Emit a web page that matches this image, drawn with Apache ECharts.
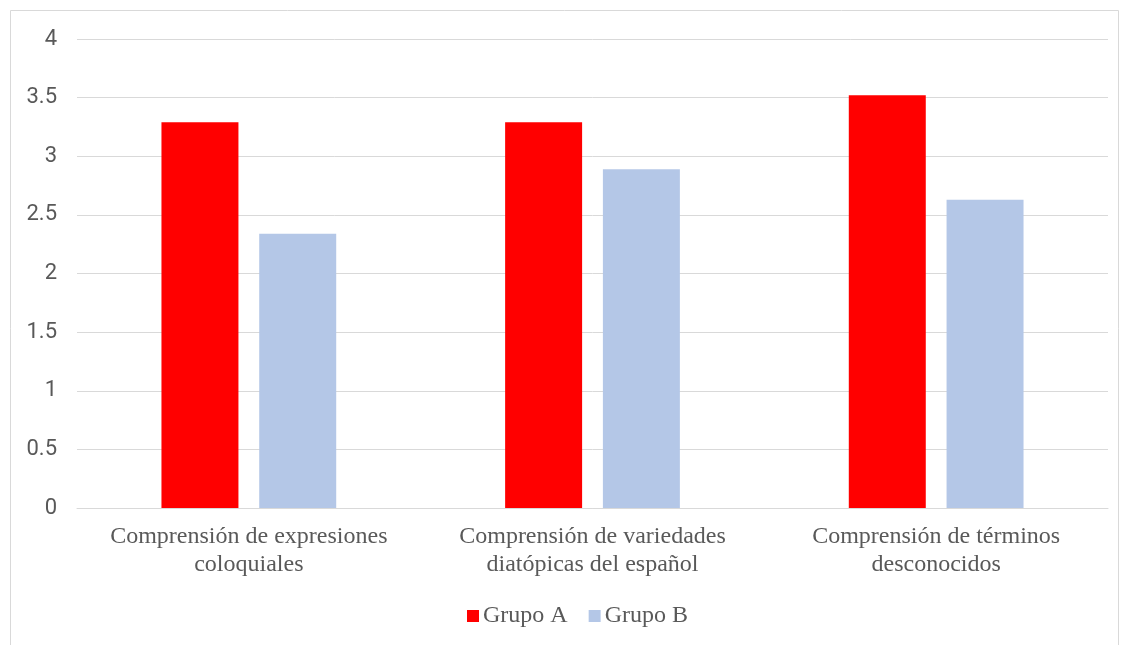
<!DOCTYPE html>
<html>
<head>
<meta charset="utf-8">
<script src="https://cdn.jsdelivr.net/npm/echarts@6/dist/echarts.min.js"></script>
<style>
  html, body { margin: 0; padding: 0; background: #ffffff; }
  #chart { width: 1125px; height: 645px; }
</style>
</head>
<body>
<div id="chart"></div>
<script>
// Categories and mean scores per group
const categories = [
  'Comprensión de expresiones\ncoloquiales',
  'Comprensión de variedades\ndiatópicas del español',
  'Comprensión de términos\ndesconocidos'
];
const grupoA = [3.29, 3.29, 3.52];
const grupoB = [2.34, 2.89, 2.63];
const yTicks = { min: 0, max: 4, interval: 0.5 };

const chart = echarts.init(document.getElementById('chart'), null, { renderer: 'canvas' });

const serif = '"Liberation Serif", "Times New Roman", serif';
const sans = 'Roboto, "Liberation Sans", sans-serif';

chart.setOption({
  animation: false,
  backgroundColor: '#ffffff',
  graphic: [{
    type: 'rect',
    shape: { x: 10.5, y: 10.5, width: 1108, height: 650 },
    style: { fill: 'none', stroke: '#d9d9d9', lineWidth: 1 },
    silent: true
  }],
  grid: { left: 77, right: 17, top: 39, bottom: 137, containLabel: false },
  legend: {
    bottom: 12,
    left: 462,
    itemWidth: 12,
    itemHeight: 12,
    itemGap: 21,
    icon: 'rect',
    textStyle: { fontFamily: serif, fontSize: 24, color: '#595959', padding: [0, 0, 0, -1] },
    data: ['Grupo A', 'Grupo B']
  },
  xAxis: {
    type: 'category',
    data: categories,
    axisLine: { show: true, lineStyle: { color: '#d9d9d9', width: 1 } },
    axisTick: { show: false },
    axisLabel: {
      fontFamily: serif, fontSize: 24, color: '#595959',
      lineHeight: 28, margin: 15, interval: 0
    }
  },
  yAxis: {
    type: 'value',
    min: yTicks.min,
    max: yTicks.max,
    interval: yTicks.interval,
    axisLine: { show: false },
    axisTick: { show: false },
    splitLine: { lineStyle: { color: '#d9d9d9', width: 1 } },
    axisLabel: { fontFamily: sans, fontSize: 22, color: '#595959', margin: 20 }
  },
  series: [
    {
      name: 'Grupo A', type: 'bar', data: grupoA,
      barWidth: '22.4%', barGap: '27%',
      itemStyle: { color: '#ff0000' }
    },
    {
      name: 'Grupo B', type: 'bar', data: grupoB,
      barWidth: '22.4%',
      itemStyle: { color: '#b4c7e7' }
    }
  ]
});
</script>
</body>
</html>
